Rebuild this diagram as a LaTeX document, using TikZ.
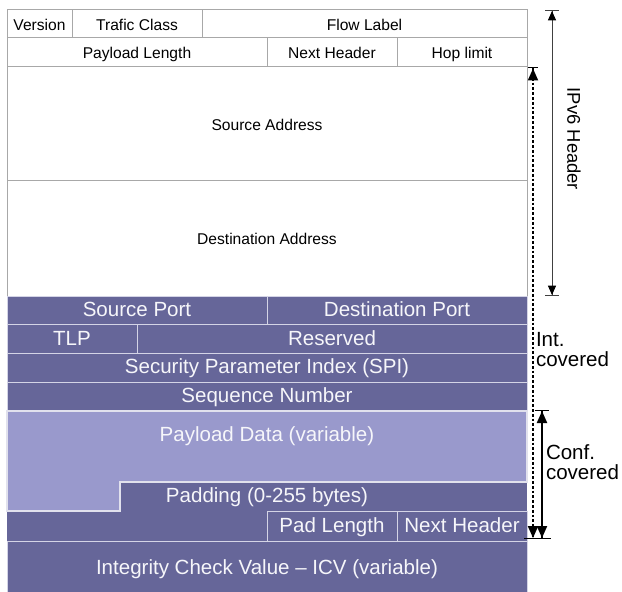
\documentclass[tikz,border=0pt]{standalone}
\usepackage{fontspec}
\setmainfont{Liberation Sans}
\usetikzlibrary{arrows.meta}
\definecolor{esp}{HTML}{666699}
\definecolor{pay}{HTML}{9999CC}
\definecolor{hline}{HTML}{A8A8A8}
\definecolor{pline}{HTML}{D4D4E6}
\definecolor{ptext}{HTML}{F6F6FA}
\newcommand\cellbox[7]{%
  \node[#7, minimum width={(#4-#2)*0.75pt}, minimum height={(#5-#3)*0.75pt}]
    (#1) at ({(#2+#4)/2},{(#3+#5)/2}) {#6};}
\begin{document}
\begin{tikzpicture}[x=0.75pt,y=-0.75pt,
  base/.style={rectangle, inner sep=0pt, outer sep=0pt},
  evenbox/.style={text height=0.95em, text depth=0em},
  hcell/.style={base, evenbox, draw=hline, line width=0.75pt, fill=white,
    font=\fontsize{11.7pt}{14pt}\selectfont},
  pcell/.style={base, evenbox, draw=pline, line width=0.75pt, fill=esp, text=ptext,
    font=\fontsize{15.4pt}{18pt}\selectfont},
  ptxt/.style={base, evenbox, text=ptext, font=\fontsize{15.4pt}{18pt}\selectfont},
  side/.style={base, align=left, font=\fontsize{15.4pt}{15pt}\selectfont},
  thinarrow/.style={line width=0.75pt, draw=black!75,
    {Bar[width=10pt,line width=0.75pt,black!75] Triangle[length=7pt,width=6pt,black]}-{Triangle[length=7pt,width=6pt,black] Bar[width=10pt,line width=0.75pt,black!75]}},
  dotarrow/.style={line width=1.5pt, dash pattern=on 2pt off 1.6pt,
    {Bar[width=7pt,line width=0.75pt] Triangle[length=9pt,width=7.5pt]}-{Triangle[length=9pt,width=7.5pt] Bar[width=14pt,line width=0.75pt]}},
  boldarrow/.style={line width=1.5pt,
    {Bar[width=11pt,line width=0.75pt] Triangle[length=9pt,width=7.5pt]}-{Triangle[length=9pt,width=7.5pt] Bar[width=13pt,line width=0.75pt]}}
]
\useasboundingbox (0,0) rectangle (622,592);
\fill[white] (0,0) rectangle (622,592);

% IPv6 header
\cellbox{ver}{7}{10}{72}{38}{Version}{hcell}
\cellbox{tc}{72}{10}{202}{38}{Trafic Class}{hcell}
\cellbox{fl}{202}{10}{527}{38}{Flow Label}{hcell}
\cellbox{pl}{7}{38}{267}{67}{Payload Length}{hcell}
\cellbox{nh}{267}{38}{397}{67}{Next Header}{hcell}
\cellbox{hl}{397}{38}{527}{67}{Hop limit}{hcell}
\cellbox{sa}{7}{67}{527}{181}{Source Address}{hcell}
\cellbox{da}{7}{181}{527}{296}{Destination Address}{hcell}

% ESP part
\fill[esp] (7,296) rectangle (527,595);
\cellbox{sp}{7}{296}{267}{324.5}{Source Port}{pcell}
\cellbox{dp}{267}{296}{527}{324.5}{Destination Port}{pcell}
\cellbox{tlp}{7}{324.5}{137}{353}{TLP}{pcell}
\cellbox{res}{137}{324.5}{527}{353}{Reserved}{pcell}
\cellbox{spi}{7}{353}{527}{382}{Security Parameter Index (SPI)}{pcell}
\cellbox{seq}{7}{382}{527}{411}{Sequence Number}{pcell}
\fill[pay, draw=pline!70!white, line width=1.5pt]
  (7,411) -- (527,411) -- (527,482) -- (120,482) -- (120,511) -- (7,511) -- cycle;
\node[ptxt] (pd) at (267,435.5) {Payload Data (variable)};
\node[ptxt] (pad) at (267,496.5) {Padding (0-255 bytes)};
\cellbox{pln}{267}{511}{397}{541}{Pad Length}{pcell}
\cellbox{nh2}{397}{511}{527}{541}{Next Header}{pcell}
\cellbox{icv}{7}{541}{527}{600}{}{pcell}
\node[ptxt] (icvt) at (267,568) {Integrity Check Value -- ICV (variable)};

% side arrows
\coordinate (ipt) at (552,10);
\coordinate (ipb) at (552,296);
\draw[thinarrow] (ipt) -- (ipb);
\node[base, rotate=-90, font=\fontsize{13.8pt}{16pt}\selectfont] (iplab) at (574,139) {IPv6 Header};

\coordinate (intt) at (533,67.5);
\coordinate (intb) at (533,539);
\draw[dotarrow] (intt) -- (intb);
\node[side, anchor=west] (intlab) at (536,350) {Int.\\covered};

\coordinate (cft) at (542,410);
\coordinate (cfb) at (542,539);
\draw[boldarrow] (cft) -- (cfb);
\node[side, anchor=west] (cflab) at (546,462) {Conf.\\covered};
\end{tikzpicture}
\end{document}
